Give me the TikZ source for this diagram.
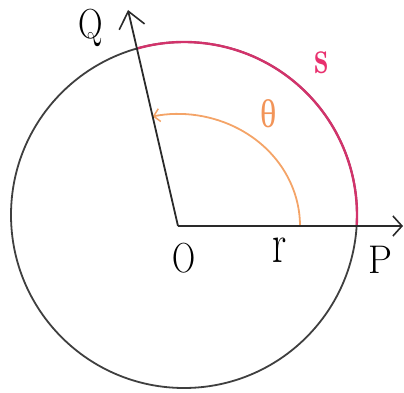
\documentclass[tikz,border=0pt]{standalone}
\usepackage{fontspec}
\newfontfamily\grkfont{Liberation Serif}
\usetikzlibrary{arrows.meta}
\definecolor{arcpink}{HTML}{D2336B}
\definecolor{spink}{HTML}{E8306E}
\definecolor{angorange}{HTML}{F4A468}
\definecolor{thorange}{HTML}{F29458}
\definecolor{ink}{HTML}{2A2A2A}
\tikzset{
  lbl/.style={inner sep=0pt, anchor=base, font=\fontsize{40}{40}\selectfont},
  axis/.style={ink, line width=1.8pt},
}
\begin{document}
\begin{tikzpicture}[x=1pt,y=-1pt]
\useasboundingbox (0,0) rectangle (404,393);
\coordinate (C) at (184,215);
\coordinate (O) at (178,226);
\coordinate (Ptip) at (403,226);
\coordinate (Qtip) at (128,10);
% circle
\draw[ink!90, line width=1.8pt] (C) circle[radius=173];
% arc s
\draw[arcpink, line width=2.4pt] ([shift={(-105.8:173)}]C) arc[start angle=-105.8, end angle=3.65, radius=173];
% angle arc
\draw[angorange, line width=1.8pt, -{Straight Barb[length=6pt,width=13pt,line width=1.5pt]}] ([shift={(0:122)}]O) arc[start angle=0, end angle=-102, x radius=122, y radius=112];
% axes
\draw[axis, -{Straight Barb[length=9pt,width=20pt,line width=1.6pt]}] (O) -- (Ptip);
\draw[axis, -{Straight Barb[length=16pt,width=26pt,line width=1.6pt]}] (O) -- (Qtip);
% labels
\node[lbl] (lQ) at (91,39) {\scalebox{0.85}[1.05]{Q}};
\node[lbl] (lO) at (184,272) {\scalebox{0.8}[1.05]{O}};
\node[lbl] (lP) at (380,273) {\scalebox{0.95}[1.0]{P}};
\node[lbl] (lr) at (280,262) {\scalebox{1.0}[1.4]{r}};
\node[lbl, spink] (ls) at (322,74) {\bfseries\scalebox{0.8}[1.2]{s}};
\node[lbl, thorange, font=\fontsize{40}{40}\grkfont] (lt) at (269,128) {\scalebox{0.85}[1.0]{θ}};
\end{tikzpicture}
\end{document}
